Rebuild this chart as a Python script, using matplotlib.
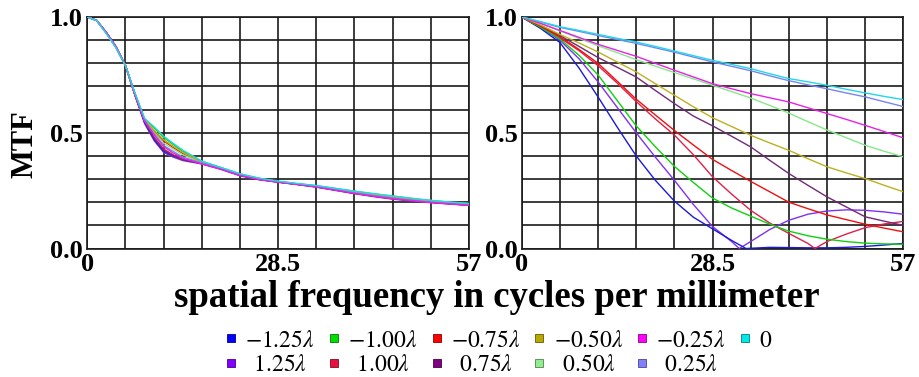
import matplotlib
matplotlib.use('Agg')
import matplotlib.pyplot as plt
from matplotlib.lines import Line2D
import numpy as np

plt.rcParams['font.family'] = ['Liberation Serif', 'DejaVu Serif']
plt.rcParams['mathtext.fontset'] = 'stix'

# ---------------- data ----------------
freq = [0, 2.85, 5.7, 8.55, 11.4, 14.25, 17.1, 19.95, 22.8, 25.65, 28.5,
        31.35, 34.2, 37.05, 39.9, 42.75, 45.6, 48.45, 51.3, 54.15, 57]
left_freq = [0, 1.4, 2.85, 4.3, 5.7, 7.1, 8.55, 10.0, 11.4, 12.8, 14.25, 17.1, 19.95,
             22.8, 25.65, 28.5, 31.35, 34.2, 37.05, 39.9, 42.75, 45.6, 48.45, 51.3, 54.15, 57]

defocus = ['-1.25', '-1.00', '-0.75', '-0.50', '-0.25', '0',
           '1.25', '1.00', '0.75', '0.50', '0.25']
colors = ['#1a1ad8', '#10d010', '#ee1010', '#bdb020', '#e820e8', '#20d8e8',
          '#8030f0', '#e0204a', '#702a78', '#88e888', '#7884f0']
legend_colors = ['#0000ff', '#00e000', '#ff0000', '#b8a800', '#ff00ff', '#00e8e8',
                 '#8000ff', '#e8103c', '#800080', '#90ee90', '#8080ff']

# left panel (all defocus values nearly identical)
left_m125 = [1, .985, .932, .870, .79, .665, .545, .470, .420, .400, .385, .370, .345, .318, .300, .288, .278, .268, .254, .240, .228, .217, .209, .201, .195, .190]
left_m100 = [1, .985, .930, .868, .79, .672, .560, .520, .480, .450, .420, .375, .350, .322, .303, .290, .280, .271, .259, .247, .236, .226, .216, .207, .200, .194]
left_m075 = [1, .985, .930, .868, .79, .670, .555, .505, .465, .437, .410, .372, .345, .319, .301, .288, .279, .269, .256, .242, .230, .219, .210, .202, .196, .190]
left_m050 = [1, .985, .930, .868, .79, .670, .558, .510, .470, .442, .415, .373, .347, .320, .302, .289, .279, .270, .257, .244, .232, .221, .212, .204, .197, .191]
left_m025 = [1, .985, .932, .870, .79, .668, .552, .490, .440, .413, .390, .365, .343, .316, .298, .287, .277, .266, .252, .238, .226, .215, .207, .199, .193, .187]
left_0    = [1, .985, .928, .866, .79, .673, .562, .525, .485, .455, .425, .378, .350, .323, .304, .291, .281, .272, .260, .248, .237, .227, .217, .208, .201, .195]
left_p125 = [1, .986, .934, .872, .79, .662, .540, .465, .415, .395, .380, .365, .342, .314, .297, .286, .276, .265, .251, .237, .224, .213, .205, .198, .192, .186]
left_p100 = [1, .985, .933, .870, .79, .665, .550, .480, .430, .405, .385, .368, .343, .316, .298, .287, .277, .266, .252, .238, .226, .215, .207, .199, .193, .187]
left_p075 = [1, .985, .932, .870, .79, .665, .548, .475, .425, .402, .383, .367, .344, .316, .299, .287, .277, .267, .253, .239, .227, .216, .208, .200, .194, .188]
left_p050 = [1, .985, .930, .868, .79, .670, .556, .500, .455, .430, .405, .372, .346, .320, .302, .289, .279, .270, .258, .245, .233, .222, .213, .204, .198, .192]
left_p025 = [1, .985, .931, .869, .79, .668, .553, .495, .445, .420, .395, .370, .345, .318, .300, .288, .278, .268, .255, .241, .229, .218, .209, .201, .195, .189]

# right panel (conventional system)
right_m125_x = [0, 2.85, 5.7, 8.55, 11.4, 14.25, 17.1, 19.95, 22.8, 25.65, 28.5, 31.35,
                33.5, 37.05, 39.9, 42.75, 45.6, 48.45, 51.3, 54.15, 57]
right_m125 = [1, .95, .89, .78, .655, .525, .40, .295, .205, .135, .085, .035,
              0.0, .005, .004, .003, .003, .005, .009, .015, .022]
right_m100 = [1, .955, .905, .835, .75, .64, .53, .44, .355, .285, .218, .175, .14, .105, .075, .055, .04, .03, .023, .02, .018]
right_m075 = [1, .96, .915, .86, .80, .723, .645, .577, .51, .447, .385, .337, .29, .245, .20, .172, .145, .125, .105, .088, .072]
right_m050 = [1, .965, .925, .888, .849, .806, .763, .712, .662, .612, .565, .527, .489, .456, .424, .388, .353, .327, .302, .273, .245]
right_m025 = [1, .972, .942, .912, .882, .856, .83, .80, .77, .741, .712, .69, .669, .651, .633, .608, .583, .558, .532, .505, .478]
right_0    = [1, .98, .958, .942, .925, .908, .892, .873, .853, .833, .813, .795, .777, .755, .734, .72, .705, .688, .672, .657, .643]
right_p125_x = [0, 2.85, 5.7, 8.55, 11.4, 14.25, 17.1, 19.95, 22.8, 25.65, 28.5, 31.35,
                32.5, 34.2, 37.05, 39.9, 42.75, 45.6, 48.45, 51.3, 54.15, 57]
right_p125 = [1, .955, .90, .82, .72, .61, .50, .395, .295, .19, .095, .03,
              0.0, .03, .082, .122, .148, .162, .167, .165, .158, .148]
right_p100_x = [0, 2.85, 5.7, 8.55, 11.4, 14.25, 17.1, 19.95, 22.8, 25.65, 28.5, 31.35,
                34.2, 37.05, 39.9, 42.75, 43.8, 45.6, 48.45, 51.3, 54.15, 57]
right_p100 = [1, .958, .91, .855, .79, .715, .635, .56, .49, .405, .31, .235,
              .165, .11, .065, .022, 0.0, .03, .062, .09, .106, .117]
right_p075 = [1, .962, .92, .873, .825, .783, .741, .683, .626, .572, .53, .485, .439, .381, .324, .273, .223, .18, .137, .118, .10]
right_p050 = [1, .972, .94, .908, .876, .846, .816, .788, .76, .733, .705, .678, .65, .618, .585, .548, .512, .479, .446, .42, .396]
right_p025 = [1, .978, .955, .938, .92, .903, .886, .867, .848, .827, .806, .787, .768, .746, .725, .707, .69, .672, .655, .634, .613]

left_series = [left_m125, left_m100, left_m075, left_m050, left_m025, left_0,
               left_p125, left_p100, left_p075, left_p050, left_p025]
right_x = [right_m125_x, freq, freq, freq, freq, freq,
           right_p125_x, right_p100_x, freq, freq, freq]
right_series = [right_m125, right_m100, right_m075, right_m050, right_m025, right_0,
                right_p125, right_p100, right_p075, right_p050, right_p025]

x_ticks = [0, 28.5, 57]
x_ticklabels = ['0', '28.5', '57']
y_ticks = [0, 0.5, 1.0]
y_ticklabels = ['0.0', '0.5', '1.0']

# ---------------- figure ----------------
fig = plt.figure(figsize=(9.2, 3.77), dpi=100)
W, H = 920, 377
axL = fig.add_axes([87.3 / W, (H - 248.5) / H, 381.7 / W, 231.5 / H])
axR = fig.add_axes([521.7 / W, (H - 248.5) / H, 381.6 / W, 231.5 / H])

for ax, xs_list, ys_list in [(axL, [left_freq] * 11, left_series), (axR, right_x, right_series)]:
    order = [6, 0, 7, 1, 8, 2, 9, 3, 10, 4, 5]
    for i in order:
        ax.plot(xs_list[i], ys_list[i], color=colors[i], lw=1.0, zorder=3)
    ax.set_xlim(0, 57)
    ax.set_ylim(0, 1)
    ax.set_xticks(x_ticks)
    ax.set_xticklabels(x_ticklabels)
    ax.set_yticks(y_ticks)
    ax.set_yticklabels(y_ticklabels)
    ax.set_xticks(np.arange(0, 57.01, 5.7), minor=True)
    ax.set_yticks(np.arange(0, 1.001, 0.1), minor=True)
    ax.grid(which='both', color='#1a1a1a', lw=1.2)
    ax.set_axisbelow(True)
    ax.tick_params(which='both', length=0, labelsize=19, pad=3)
    for lab in ax.get_xticklabels() + ax.get_yticklabels():
        lab.set_fontweight('bold')
    for s in ax.spines.values():
        s.set_color('#1a1a1a')
        s.set_linewidth(1.2)

fig.text(25 / W, (H - 144) / H, 'MTF', rotation=90, ha='center', va='center',
         fontsize=22, fontweight='bold')
fig.text(497 / W, (H - 307) / H, 'spatial frequency in cycles per millimeter',
         ha='center', va='baseline', fontsize=26.5, fontweight='bold')

legend_labels = []
for d in defocus:
    if d == '0':
        legend_labels.append('$0$')
    elif d.startswith('-'):
        legend_labels.append(r'$-' + d[1:] + r'\lambda$')
    else:
        legend_labels.append(r'$\enspace' + d + r'\lambda$')

def dark(c):
    r, g, b = matplotlib.colors.to_rgb(c)
    return (r * 0.55, g * 0.55, b * 0.55)

handles = [Line2D([], [], marker='s', linestyle='none', markersize=6,
                  markerfacecolor=legend_colors[i], markeredgecolor=dark(legend_colors[i]),
                  markeredgewidth=0.6) for i in range(11)]
leg_order = [0, 6, 1, 7, 2, 8, 3, 9, 4, 10, 5]
fig.legend([handles[i] for i in leg_order], [legend_labels[i] for i in leg_order],
           ncol=6, loc='upper left', bbox_to_anchor=(224 / W, (H - 330) / H),
           frameon=False, prop={'size': 17}, handlelength=0.6, handletextpad=0.3,
           columnspacing=0.5, labelspacing=0.12, borderpad=0, borderaxespad=0)

fig.savefig('out.png', dpi=100)
